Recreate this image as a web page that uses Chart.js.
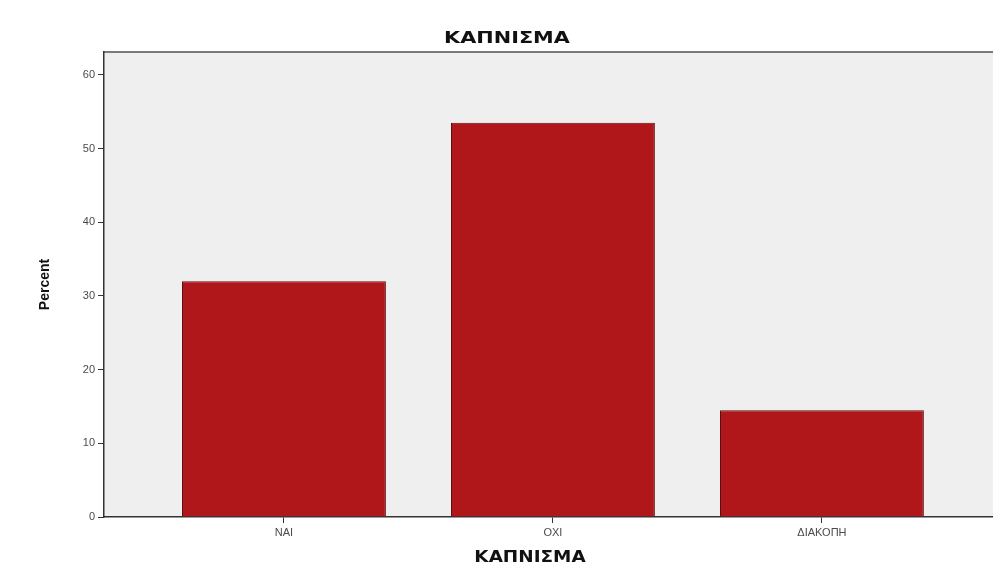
<!DOCTYPE html>
<html>
<head>
<meta charset="utf-8">
<title>ΚΑΠΝΙΣΜΑ</title>
<script src="https://cdn.jsdelivr.net/npm/chart.js@4.4.1/dist/chart.umd.min.js"></script>
<style>
    html, body { margin: 0; padding: 0; background: #ffffff; }
    #wrap { width: 993px; height: 575px; position: relative; }
</style>
</head>
<body>
<div id="wrap"><canvas id="smoking-chart"></canvas></div>
<script>
// Chart data
const categories = ['ΝΑΙ', 'ΟΧΙ', 'ΔΙΑΚΟΠΗ'];
const percentValues = [32.0, 53.5, 14.5];
const yTicks = [0, 10, 20, 30, 40, 50, 60];
const chartTitle = 'ΚΑΠΝΙΣΜΑ';
const xAxisTitle = 'ΚΑΠΝΙΣΜΑ';

// Draw a title stretched sideways, like the SPSS export
function drawWideText(ctx, text, x, y, stretch) {
    ctx.save();
    ctx.translate(x, y);
    ctx.scale(stretch, 1);
    ctx.fillText(text, 0, 0);
    ctx.restore();
}

// Panel background, top border and titles
const panelPlugin = {
    id: 'panel',
    beforeDraw(chart) {
        const { ctx, chartArea } = chart;
        ctx.save();
        ctx.fillStyle = '#efefef';
        ctx.fillRect(chartArea.left, chartArea.top, chartArea.right - chartArea.left, chartArea.bottom - chartArea.top);
        ctx.strokeStyle = '#7a7a7a';
        ctx.lineWidth = 2;
        ctx.beginPath();
        ctx.moveTo(chartArea.left, chartArea.top);
        ctx.lineTo(chartArea.right, chartArea.top);
        ctx.stroke();
        ctx.restore();
    },
    afterDraw(chart) {
        const ctx = chart.ctx;
        ctx.save();
        ctx.fillStyle = '#111111';
        ctx.font = 'bold 16px "DejaVu Sans"';
        ctx.textAlign = 'center';
        ctx.textBaseline = 'middle';
        drawWideText(ctx, chartTitle, 507, 39, 1.3);
        drawWideText(ctx, xAxisTitle, 530, 558, 1.15);
        ctx.restore();
    }
};

// Build the chart
function initSmokingChart() {
    const ctx = document.getElementById('smoking-chart').getContext('2d');
    const points = percentValues.map((v, i) => ({ x: i, y: v }));

    window.smokingChart = new Chart(ctx, {
        type: 'bar',
        data: {
            datasets: [{
                label: 'Percent',
                data: points,
                backgroundColor: '#b0171b',
                borderColor: '#5c0f10',
                borderWidth: 1,
                barPercentage: 0.758,
                categoryPercentage: 1
            }]
        },
        options: {
            responsive: true,
            maintainAspectRatio: false,
            animation: false,
            layout: { padding: { left: 0, right: 0, top: 52, bottom: 0 } },
            scales: {
                x: {
                    type: 'linear',
                    offset: false,
                    min: -0.669,
                    max: 2.636,
                    afterBuildTicks: function(scale) {
                        scale.ticks = categories.map((c, i) => ({ value: i }));
                    },
                    afterFit: function(scale) { scale.height = 58; },
                    ticks: {
                        color: '#4a4a4a',
                        font: { family: 'Liberation Sans', size: 11 },
                        padding: 3,
                        callback: function(value) { return categories[value]; }
                    },
                    grid: {
                        offset: false,
                        drawOnChartArea: false,
                        drawTicks: true,
                        tickLength: 6,
                        color: '#333333'
                    },
                    border: { display: true, color: '#333333', width: 1.5 }
                },
                y: {
                    min: 0,
                    max: 63.1,
                    afterBuildTicks: function(scale) {
                        scale.ticks = yTicks.map(v => ({ value: v }));
                    },
                    afterFit: function(scale) { scale.width = 104; },
                    ticks: {
                        color: '#4a4a4a',
                        font: { family: 'Liberation Sans', size: 11 },
                        padding: 3
                    },
                    grid: {
                        drawOnChartArea: false,
                        drawTicks: true,
                        tickLength: 6,
                        color: '#333333'
                    },
                    border: { display: true, color: '#333333', width: 1.5 },
                    title: {
                        display: true,
                        text: 'Percent',
                        color: '#111111',
                        font: { family: 'Liberation Sans', size: 14, weight: 'bold' },
                        padding: { top: 37, bottom: 0 }
                    }
                }
            },
            plugins: {
                legend: { display: false },
                tooltip: { enabled: false }
            }
        },
        plugins: [panelPlugin]
    });
}

document.addEventListener('DOMContentLoaded', function() {
    initSmokingChart();
});
</script>
</body>
</html>
